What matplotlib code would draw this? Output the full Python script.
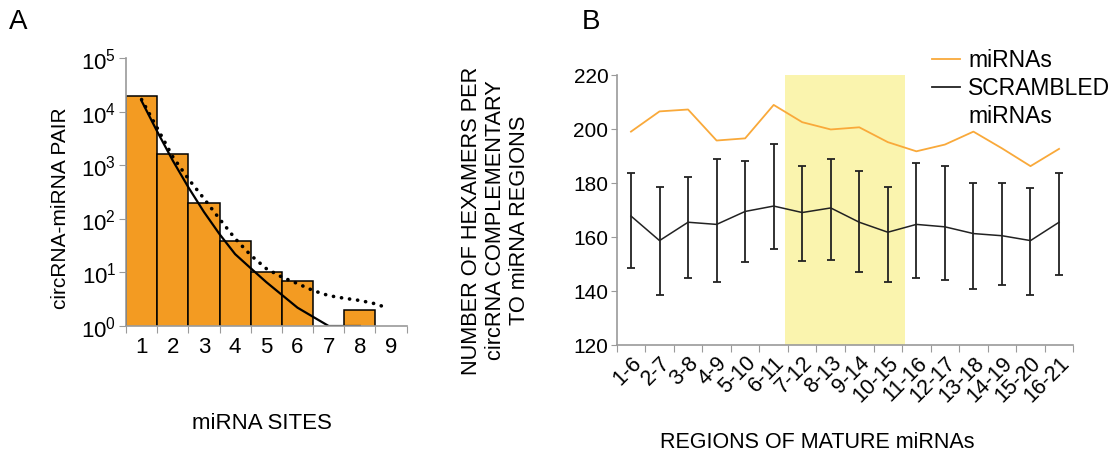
import matplotlib
matplotlib.use("Agg")
import matplotlib.pyplot as plt
from matplotlib.lines import Line2D
import numpy as np

plt.rcParams['font.family'] = ['Liberation Sans', 'DejaVu Sans']
plt.rcParams['mathtext.fontset'] = 'custom'
plt.rcParams['mathtext.rm'] = 'Liberation Sans'
plt.rcParams['mathtext.it'] = 'Liberation Sans'

# ---------------- Panel A data ----------------
sites = [1, 2, 3, 4, 5, 6, 7, 8, 9]
pair_counts = [19500, 1600, 195, 39, 10, 6.8, 0, 2, 0]
fit_x = [1, 1.5, 2, 2.5, 3, 3.5, 4, 4.5, 5, 6, 7, 8]
fit_solid = [16000, 4300, 1230, 390, 135, 52, 22, 12, 6.6, 2.2, 1, 1]
dot_x = [1, 1.5, 2, 2.5, 3, 3.5, 4, 4.5, 5, 5.5, 6, 6.5, 7, 7.5, 8, 8.5, 8.85]
fit_dotted = [17000, 5000, 1450, 560, 240, 100, 43, 21, 11.8, 8.2, 6.2, 4.6,
              3.7, 3.3, 3.0, 2.6, 2.2]
a_yticks = [1, 10, 100, 1000, 10000, 100000]
a_ylabels = ['$10^{0}$', '$10^{1}$', '$10^{2}$', '$10^{3}$', '$10^{4}$', '$10^{5}$']

# ---------------- Panel B data ----------------
regions = ['1-6', '2-7', '3-8', '4-9', '5-10', '6-11', '7-12', '8-13', '9-14',
           '10-15', '11-16', '12-17', '13-18', '14-19', '15-20', '16-21']
mirnas = [199, 206.5, 207.2, 195.7, 196.5, 208.9, 202.5, 199.8, 200.6,
          195.1, 191.7, 194.2, 199, 192.8, 186.2, 192.6]
scrambled = [167.7, 158.6, 165.4, 164.6, 169.4, 171.4, 169, 170.7, 165.4,
             161.7, 164.6, 163.7, 161.2, 160.4, 158.6, 165.4]
scr_upper = [183.8, 178.6, 182.2, 189, 188, 194.3, 186.2, 189, 184.3,
             178.6, 187.2, 186.2, 180, 180, 178.1, 183.6]
scr_lower = [148.5, 138.6, 144.9, 143.2, 150.5, 155.3, 151, 151.4, 146.8,
             143.2, 144.9, 144.1, 140.5, 142.2, 138.6, 145.9]
highlight = (5.4, 9.6)
b_yticks = [120, 140, 160, 180, 200, 220]

SPINE = '#9a9a9a'
BAR = '#F39B22'
ORANGE = '#F9A93A'

fig = plt.figure(figsize=(11.12, 4.52), dpi=100)

# ---------------- Panel A ----------------
axA = fig.add_axes([0.1133, 0.2765, 0.2524, 0.5923])
axA.bar(sites, pair_counts, width=1.0, color=BAR, edgecolor='black', linewidth=1.1)
axA.plot(fit_x, fit_solid, color='black', lw=1.6)
axA.plot(dot_x, fit_dotted, color='black', lw=2.6, linestyle=(0, (0.05, 2.2)),
         dash_capstyle='round')
axA.set_yscale('log')
axA.set_ylim(1, 100000)
axA.set_xlim(0.5, 9.5)
axA.set_yticks(a_yticks)
axA.set_yticklabels(a_ylabels)
axA.minorticks_off()
axA.set_xticks(np.arange(0.5, 10.0, 1.0))
axA.set_xticklabels([])
axA.set_xticks(sites, minor=True)
axA.set_xticklabels([str(s) for s in sites], minor=True)
axA.tick_params(axis='x', which='minor', length=0, labelsize=16, pad=7)
axA.tick_params(axis='x', which='major', length=5, color=SPINE)
axA.tick_params(axis='y', length=5, color=SPINE, labelsize=16, pad=2)
for s in ['top', 'right']:
    axA.spines[s].set_visible(False)
for s in ['left', 'bottom']:
    axA.spines[s].set_color(SPINE)
    axA.spines[s].set_linewidth(1.2)
fig.text(0.054, 0.54, 'circRNA-miRNA PAIR', rotation=90, fontsize=15,
         ha='center', va='center')
fig.text(0.236, 0.063, 'miRNA SITES', fontsize=16, ha='center', va='center')
fig.text(0.008, 0.952, 'A', fontsize=20, ha='left', va='center')

# ---------------- Panel B ----------------
axB = fig.add_axes([0.5546, 0.2352, 0.4106, 0.5967])
xb = np.arange(len(regions))
axB.axvspan(highlight[0], highlight[1], color='#FAF4AE', lw=0, zorder=0)
axB.plot(xb, mirnas, color=ORANGE, lw=1.3, zorder=3)
yerr = [np.array(scrambled) - np.array(scr_lower), np.array(scr_upper) - np.array(scrambled)]
axB.errorbar(xb, scrambled, yerr=yerr, color='#222222', lw=1.1, elinewidth=1.3,
             capsize=2.6, capthick=1.3, zorder=3)
axB.set_xlim(-0.5, len(regions) - 0.5)
axB.set_ylim(120, 220)
axB.set_yticks(b_yticks)
axB.tick_params(axis='y', length=4, color=SPINE, labelsize=15, pad=2)
axB.set_xticks(np.arange(-0.5, len(regions), 1.0))
axB.set_xticklabels([])
axB.set_xticks(xb, minor=True)
axB.set_xticklabels(regions, minor=True, rotation=45, ha='right', va='top',
                    rotation_mode='anchor')
axB.tick_params(axis='x', which='minor', length=0, labelsize=15.5, pad=5)
axB.tick_params(axis='x', which='major', length=5, color=SPINE)
for s in ['top', 'right']:
    axB.spines[s].set_visible(False)
for s in ['left', 'bottom']:
    axB.spines[s].set_color(SPINE)
    axB.spines[s].set_linewidth(1.2)

fig.text(0.4455, 0.512, 'NUMBER OF HEXAMERS PER\ncircRNA COMPLEMENTARY\nTO miRNA REGIONS',
         rotation=90, fontsize=15.7, ha='center', va='center', linespacing=1.2,
         multialignment='center')
fig.text(0.735, 0.022, 'REGIONS OF MATURE miRNAs', fontsize=15.5, ha='center', va='center')
fig.text(0.523, 0.952, 'B', fontsize=20, ha='left', va='center')

# legend (drawn manually to mimic layout)
fig.add_artist(Line2D([0.838, 0.8633], [0.867, 0.867], color=ORANGE, lw=1.3))
fig.add_artist(Line2D([0.838, 0.8633], [0.805, 0.805], color='#222222', lw=1.3))
fig.text(0.8705, 0.867, 'miRNAs', fontsize=16.5, ha='left', va='center')
fig.text(0.8705, 0.805, 'SCRAMBLED', fontsize=16.5, ha='left', va='center')
fig.text(0.8705, 0.742, 'miRNAs', fontsize=16.5, ha='left', va='center')

fig.savefig('out.png', dpi=100)
